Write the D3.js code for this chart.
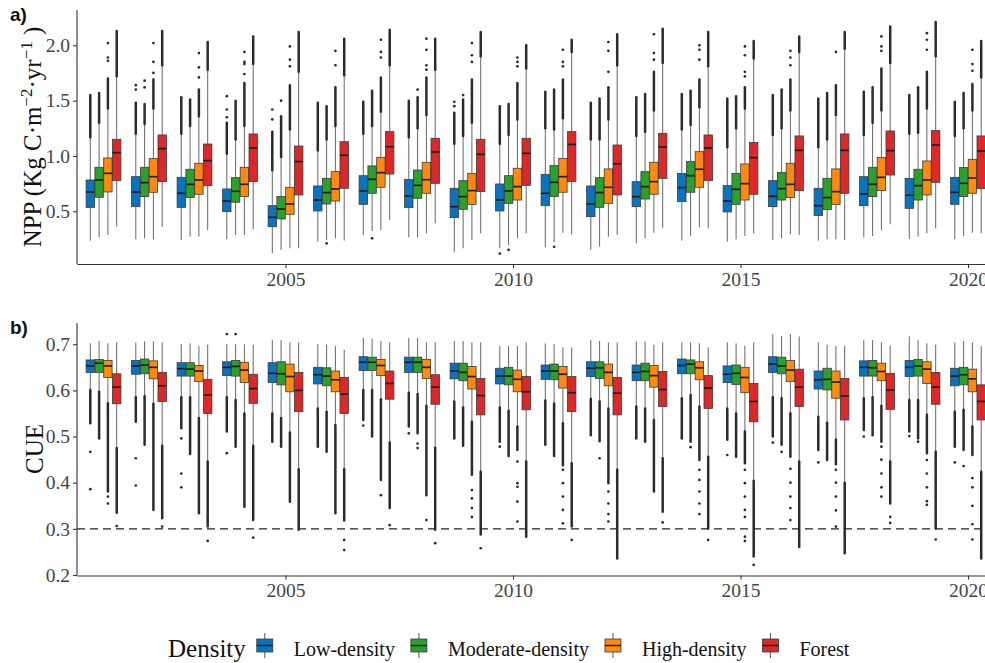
<!DOCTYPE html>
<html><head><meta charset="utf-8">
<script src="https://cdn.jsdelivr.net/npm/d3@7"></script>
<style>body{margin:0;background:#fff}svg{display:block}</style>
</head><body>
<div id="chart"></div>
<script>
const years = [2001,2002,2003,2004,2005,2006,2007,2008,2009,2010,2011,2012,2013,2014,2015,2016,2017,2018,2019,2020];
const densities = ["Low-density","Moderate-density","High-density","Forest"];
const colors = ["#0a73be","#2ca02c","#ff8a0e","#dc2828"];
const xTicks = [2005,2010,2015,2020];
const nppTicks = [0.5,1.0,1.5,2.0];
const cueTicks = [0.2,0.3,0.4,0.5,0.6,0.7];
const cueThreshold = 0.3;

// rows: [lowerWhisker, q1, median, q3, upperWhisker, end of dense outliers]
const nppLow = [[0.235,0.536,0.675,0.783,1.17,1.55],[0.247,0.542,0.675,0.813,1.20,1.48],[0.241,0.536,0.663,0.807,1.20,1.53],[0.247,0.497,0.593,0.702,1.02,1.30],[0.121,0.361,0.446,0.551,0.87,1.22],[0.226,0.503,0.602,0.729,1.05,1.48],[0.286,0.563,0.684,0.822,1.20,1.49],[0.265,0.533,0.639,0.789,1.17,1.50],[0.130,0.443,0.542,0.708,1.11,1.39],[0.166,0.503,0.602,0.747,1.11,1.45],[0.175,0.551,0.663,0.834,1.25,1.58],[0.151,0.452,0.566,0.729,1.15,1.48],[0.210,0.542,0.633,0.768,1.18,1.53],[0.235,0.587,0.714,0.843,1.24,1.56],[0.226,0.494,0.593,0.732,1.08,1.52],[0.241,0.542,0.636,0.777,1.19,1.55],[0.235,0.461,0.551,0.708,1.08,1.52],[0.265,0.551,0.657,0.813,1.19,1.58],[0.250,0.527,0.645,0.798,1.20,1.55],[0.247,0.563,0.672,0.807,1.18,1.49]];
const nppMod = [[0.265,0.627,0.783,0.898,1.30,1.57],[0.256,0.633,0.759,0.898,1.29,1.47],[0.271,0.624,0.744,0.880,1.27,1.51],[0.286,0.582,0.681,0.804,1.15,1.50],[0.151,0.431,0.521,0.633,0.99,1.36],[0.240,0.566,0.669,0.798,1.15,1.45],[0.322,0.663,0.789,0.910,1.27,1.59],[0.265,0.618,0.735,0.873,1.25,1.53],[0.166,0.518,0.633,0.777,1.18,1.51],[0.196,0.572,0.684,0.822,1.19,1.47],[0.220,0.633,0.762,0.913,1.24,1.60],[0.181,0.536,0.669,0.804,1.15,1.52],[0.256,0.611,0.723,0.858,1.22,1.56],[0.277,0.672,0.822,0.949,1.28,1.59],[0.247,0.563,0.699,0.843,1.25,1.54],[0.256,0.602,0.705,0.852,1.25,1.60],[0.247,0.515,0.624,0.798,1.15,1.57],[0.277,0.633,0.744,0.898,1.30,1.62],[0.271,0.602,0.732,0.880,1.21,1.62],[0.277,0.633,0.753,0.895,1.25,1.57]];
const nppHigh = [[0.286,0.675,0.843,0.982,1.43,1.70],[0.247,0.672,0.813,0.976,1.43,1.69],[0.271,0.654,0.783,0.934,1.36,1.60],[0.286,0.633,0.744,0.898,1.27,1.66],[0.166,0.473,0.566,0.717,1.24,1.64],[0.256,0.593,0.702,0.858,1.27,1.62],[0.331,0.717,0.849,0.988,1.40,1.71],[0.301,0.663,0.786,0.943,1.37,1.71],[0.241,0.563,0.687,0.843,1.30,1.69],[0.256,0.602,0.723,0.889,1.33,1.66],[0.307,0.672,0.813,0.979,1.34,1.69],[0.271,0.572,0.717,0.883,1.33,1.62],[0.307,0.654,0.768,0.943,1.41,1.76],[0.355,0.717,0.880,1.039,1.44,1.69],[0.277,0.602,0.750,0.928,1.43,1.62],[0.292,0.624,0.744,0.934,1.41,1.69],[0.247,0.563,0.678,0.883,1.37,1.64],[0.331,0.687,0.807,0.985,1.41,1.79],[0.301,0.648,0.783,0.955,1.43,1.76],[0.307,0.663,0.801,0.970,1.41,1.65]];
const nppForest = [[0.361,0.777,1.030,1.151,1.72,2.13],[0.361,0.768,1.066,1.190,1.82,2.13],[0.331,0.732,0.958,1.108,1.78,2.03],[0.337,0.768,1.072,1.199,1.83,2.08],[0.166,0.648,0.949,1.090,1.76,2.12],[0.235,0.708,1.006,1.129,1.73,2.06],[0.422,0.837,1.084,1.220,1.82,2.14],[0.392,0.753,1.036,1.160,1.78,2.06],[0.301,0.678,1.015,1.151,1.90,2.12],[0.301,0.735,1.024,1.160,1.79,2.00],[0.292,0.768,1.105,1.220,1.94,2.05],[0.286,0.648,0.930,1.099,1.82,2.10],[0.352,0.798,1.081,1.205,1.84,2.15],[0.346,0.777,1.072,1.190,1.81,2.12],[0.301,0.654,0.985,1.123,1.88,2.04],[0.286,0.687,1.051,1.181,1.94,2.08],[0.241,0.663,1.051,1.199,1.97,2.12],[0.383,0.828,1.048,1.226,1.84,2.17],[0.346,0.762,1.099,1.229,1.90,2.21],[0.300,0.705,1.045,1.181,1.71,2.04]];
// separate outliers
const nppLowOut = [[],[1.60,1.64],[],[1.35,1.42,1.54],[1.33,1.42],[],[],[],[1.45,1.49],[0.118],[],[],[],[],[],[],[],[],[],[]];
const nppModOut = [[],[1.62,1.68],[],[],[1.50],[0.21],[0.256],[1.60],[1.55],[0.151],[0.18],[],[],[],[],[],[],[],[],[]];
const nppHighOut = [[1.86,1.89,2.02],[1.75,1.85,2.02],[1.71,1.80,1.93],[1.74,1.83,1.85,1.94],[1.81,1.87,1.99],[1.82,1.95],[1.89,1.94,2.05],[1.78,1.82,1.96,2.06],[1.85,1.91,2.02],[1.81,1.85,1.89],[1.81,1.85,1.96],[1.76,1.95,2.03],[1.87,1.93,2.10],[1.87,1.96,2.00],[1.72,1.76,1.91,1.99],[1.82,1.89,1.95],[1.94],[1.95,1.99,2.08],[1.96,2.05,2.11],[1.77,1.83,1.96]];
const nppForestOut = [[],[],[],[],[],[],[],[],[],[],[],[],[],[],[],[],[],[],[],[]];

// rows: [lowerWhisker, q1, median, q3, upperWhisker, end of dense low outliers]
const cueLow = [[0.601,0.639,0.653,0.666,0.702,0.529],[0.585,0.635,0.653,0.665,0.704,0.532],[0.585,0.631,0.647,0.660,0.700,0.518],[0.585,0.632,0.650,0.662,0.700,0.511],[0.550,0.617,0.637,0.660,0.709,0.489],[0.561,0.614,0.634,0.650,0.700,0.478],[0.601,0.643,0.661,0.673,0.714,0.536],[0.595,0.639,0.661,0.672,0.714,0.522],[0.576,0.625,0.642,0.659,0.707,0.496],[0.563,0.614,0.631,0.648,0.696,0.489],[0.578,0.624,0.642,0.655,0.702,0.482],[0.582,0.630,0.648,0.662,0.709,0.503],[0.565,0.621,0.639,0.655,0.706,0.496],[0.583,0.636,0.654,0.668,0.704,0.496],[0.561,0.617,0.635,0.653,0.704,0.493],[0.585,0.639,0.657,0.673,0.722,0.500],[0.543,0.603,0.623,0.642,0.704,0.471],[0.583,0.631,0.650,0.664,0.709,0.514],[0.579,0.630,0.650,0.665,0.717,0.511],[0.554,0.610,0.631,0.648,0.704,0.478]];
const cueMod = [[0.597,0.639,0.659,0.667,0.707,0.496],[0.588,0.636,0.655,0.668,0.706,0.482],[0.585,0.631,0.646,0.660,0.702,0.462],[0.579,0.631,0.652,0.665,0.700,0.478],[0.540,0.612,0.636,0.662,0.709,0.478],[0.554,0.610,0.631,0.649,0.699,0.467],[0.601,0.643,0.661,0.672,0.712,0.500],[0.592,0.639,0.661,0.672,0.714,0.507],[0.563,0.621,0.639,0.659,0.707,0.480],[0.556,0.612,0.631,0.650,0.696,0.458],[0.571,0.623,0.642,0.657,0.700,0.458],[0.576,0.626,0.649,0.662,0.707,0.490],[0.561,0.621,0.641,0.659,0.706,0.489],[0.590,0.636,0.657,0.666,0.704,0.489],[0.550,0.613,0.637,0.655,0.702,0.456],[0.583,0.636,0.653,0.672,0.718,0.482],[0.530,0.601,0.624,0.648,0.699,0.449],[0.585,0.631,0.649,0.665,0.709,0.503],[0.579,0.631,0.653,0.667,0.709,0.496],[0.558,0.612,0.634,0.650,0.707,0.471]];
const cueHigh = [[0.572,0.628,0.653,0.665,0.702,0.381],[0.571,0.625,0.650,0.664,0.706,0.341],[0.540,0.619,0.642,0.654,0.696,0.334],[0.550,0.617,0.644,0.661,0.700,0.348],[0.509,0.597,0.630,0.657,0.704,0.359],[0.525,0.597,0.623,0.642,0.696,0.334],[0.581,0.632,0.654,0.667,0.707,0.406],[0.567,0.626,0.650,0.667,0.704,0.373],[0.532,0.603,0.630,0.652,0.704,0.417],[0.522,0.597,0.624,0.644,0.696,0.471],[0.529,0.605,0.635,0.652,0.693,0.438],[0.561,0.610,0.639,0.657,0.704,0.399],[0.536,0.607,0.632,0.654,0.699,0.381],[0.565,0.623,0.649,0.662,0.702,0.449],[0.511,0.595,0.628,0.650,0.697,0.442],[0.550,0.619,0.644,0.665,0.722,0.456],[0.493,0.583,0.618,0.642,0.696,0.440],[0.567,0.621,0.641,0.659,0.704,0.489],[0.547,0.615,0.646,0.662,0.702,0.464],[0.522,0.597,0.625,0.646,0.704,0.460]];
const cueForest = [[0.475,0.571,0.607,0.636,0.704,0.335],[0.480,0.576,0.610,0.639,0.704,0.323],[0.446,0.550,0.590,0.624,0.699,0.305],[0.480,0.572,0.604,0.635,0.699,0.319],[0.429,0.554,0.600,0.639,0.704,0.298],[0.429,0.550,0.592,0.628,0.688,0.318],[0.487,0.581,0.615,0.642,0.704,0.345],[0.476,0.570,0.607,0.634,0.704,0.298],[0.424,0.547,0.589,0.626,0.704,0.288],[0.446,0.558,0.597,0.630,0.704,0.283],[0.442,0.554,0.595,0.630,0.693,0.305],[0.428,0.547,0.594,0.628,0.704,0.236],[0.453,0.565,0.602,0.641,0.704,0.337],[0.456,0.561,0.605,0.632,0.693,0.301],[0.404,0.532,0.576,0.615,0.704,0.240],[0.446,0.565,0.607,0.646,0.717,0.261],[0.400,0.536,0.588,0.626,0.697,0.247],[0.446,0.559,0.601,0.637,0.697,0.355],[0.467,0.570,0.607,0.639,0.699,0.301],[0.424,0.536,0.576,0.612,0.696,0.236]];
const cueLowOut = [[0.467,0.386],[0.453,0.394],[0.496,0.42,0.39],[0.464,0.722],[],[],[0.524],[0.507],[],[0.478],[],[],[],[],[0.460],[0.487],[0.444],[0.500],[0.501],[0.444]];
const cueModOut = [[],[],[],[0.722],[],[],[],[0.485,0.475],[],[],[],[0.453],[],[0.477],[],[0.467],[],[],[0.489],[0.436]];
const cueHighOut = [[0.370,0.355],[],[],[],[],[],[0.373],[0.319],[0.384,0.366,0.345,0.326],[0.446,0.399,0.391,0.359,0.316],[0.428,0.399,0.370,0.341,0.312],[0.381,0.355,0.332,0.316],[],[0.428,0.406,0.381,0.355,0.332],[0.428,0.399,0.370,0.341,0.326,0.283,0.274],[0.43,0.40,0.37,0.345,0.319],[0.428,0.400,0.370,0.340,0.305],[0.478,0.45,0.42,0.39,0.37],[0.449,0.42,0.39,0.36,0.352],[0.41,0.39,0.35,0.31,0.277]];
const cueForestOut = [[0.306],[0.305],[0.274],[0.281],[],[0.276,0.254],[0.308],[0.269],[0.258],[],[0.276],[],[0.314],[0.276],[0.222],[],[],[0.326,0.313],[0.277],[]];

const W = 985, H = 663;
const serif = "'Liberation Serif','Times New Roman',serif";
const svg = d3.select("#chart").append("svg").attr("width", W).attr("height", H)
  .style("font-family", serif);
svg.append("rect").attr("width", W).attr("height", H).attr("fill", "#fff");

const axisX0 = 77;
const x = d3.scaleLinear().domain([2001, 2020]).range([103.5, 968]);
const slot = 8.8, halfW = 4.2;

const panels = [
  {label: "a)", top: 10, bottom: 264, domain: [0.024, 2.319], ticks: nppTicks, fmt: d3.format(".1f"),
   sets: [nppLow, nppMod, nppHigh, nppForest], outs: [nppLowOut, nppModOut, nppHighOut, nppForestOut], denseUp: true},
  {label: "b)", top: 323, bottom: 575.5, domain: [0.199, 0.746], ticks: cueTicks, fmt: d3.format(".1f"),
   sets: [cueLow, cueMod, cueHigh, cueForest], outs: [cueLowOut, cueModOut, cueHighOut, cueForestOut], denseUp: false}
];

panels.forEach((p, pi) => {
  const y = d3.scaleLinear().domain(p.domain).range([p.bottom, p.top]);
  const g = svg.append("g");

  if (!p.denseUp) {
    g.append("line").attr("x1", axisX0).attr("x2", W + 5)
      .attr("y1", y(cueThreshold)).attr("y2", y(cueThreshold))
      .attr("stroke", "#222").attr("stroke-width", 1.4).attr("stroke-dasharray", "8,5");
  }

  p.sets.forEach((rows, ci) => {
    const outs = p.outs[ci];
    rows.forEach((r, yi) => {
      const cx = x(years[yi]) + (ci - 1.5) * slot;
      const [lo, q1, med, q3, hi, dense] = r;
      g.append("line").attr("x1", cx).attr("x2", cx).attr("y1", y(hi)).attr("y2", y(q3))
        .attr("stroke", "#666").attr("stroke-width", 1);
      g.append("line").attr("x1", cx).attr("x2", cx).attr("y1", y(q1)).attr("y2", y(lo))
        .attr("stroke", "#666").attr("stroke-width", 1);
      const d0 = p.denseUp ? hi : lo;
      g.append("line").attr("x1", cx).attr("x2", cx).attr("y1", y(d0)).attr("y2", y(dense))
        .attr("stroke", "#2b2b2b").attr("stroke-width", 2.5).attr("stroke-linecap", "round");
      outs[yi].forEach(v => {
        g.append("circle").attr("cx", cx).attr("cy", y(v)).attr("r", 1.35).attr("fill", "#2b2b2b");
      });
      g.append("rect").attr("x", cx - halfW).attr("width", halfW * 2)
        .attr("y", y(q3)).attr("height", y(q1) - y(q3))
        .attr("fill", colors[ci]).attr("stroke", "#3a3a3a").attr("stroke-width", 0.8);
      g.append("line").attr("x1", cx - halfW).attr("x2", cx + halfW).attr("y1", y(med)).attr("y2", y(med))
        .attr("stroke", "#1e1e1e").attr("stroke-width", 1.7);
    });
  });

  const yAxis = d3.axisLeft(y).tickValues(p.ticks).tickFormat(p.fmt).tickSize(4).tickSizeOuter(0).tickPadding(3);
  const ya = svg.append("g").attr("transform", `translate(${axisX0},0)`).call(yAxis);
  const xs = x.copy().domain([x.invert(axisX0), x.invert(W + 5)]).range([axisX0, W + 5]);
  const xAxis = d3.axisBottom(xs).tickValues(xTicks).tickFormat(d3.format("d")).tickSize(4).tickSizeOuter(0).tickPadding(4);
  const xa = svg.append("g").attr("transform", `translate(0,${p.bottom})`).call(xAxis);
  [ya, xa].forEach(a => {
    a.attr("font-family", serif);
    a.select(".domain").attr("stroke", "#333").attr("stroke-width", 1.1);
    a.selectAll(".tick line").attr("stroke", "#333").attr("stroke-width", 1.1);
    a.selectAll(".tick text").attr("fill", "#444").style("font-size", "19.5px")
      .style("font-family", serif);
  });
  ya.select(".domain").attr("d", `M0,${p.bottom}V${p.top}`);

  svg.append("text").attr("x", 10).attr("y", p.top + 11).text(p.label)
    .style("font-family", "'Liberation Sans',Arial,sans-serif").style("font-weight", "bold")
    .style("font-size", "19px").attr("fill", "#111");
});

const t1 = svg.append("text").attr("transform", "translate(41,137) rotate(-90)")
  .attr("text-anchor", "middle").style("font-size", "25px").attr("fill", "#111");
t1.append("tspan").text("NPP (Kg C·m");
t1.append("tspan").text("−2").attr("dy", -9).style("font-size", "17px");
t1.append("tspan").text("·yr").attr("dy", 9);
t1.append("tspan").text("−1").attr("dy", -9).style("font-size", "17px");
t1.append("tspan").text(" )").attr("dy", 9);

svg.append("text").attr("transform", "translate(43,449) rotate(-90)")
  .attr("text-anchor", "middle").style("font-size", "25px").attr("fill", "#111").text("CUE");

const lg = svg.append("g");
const lt = lg.append("text").attr("x", 168).attr("y", 657).style("font-size", "25px").attr("fill", "#111").text("Density");
let cursor = 168 + lt.node().getComputedTextLength() + 11;
densities.forEach((name, i) => {
  const kx = cursor, kc = kx + 8;
  lg.append("line").attr("x1", kc).attr("x2", kc).attr("y1", 633).attr("y2", 658).attr("stroke", "#555").attr("stroke-width", 1);
  lg.append("rect").attr("x", kx).attr("y", 639).attr("width", 16).attr("height", 13)
    .attr("fill", colors[i]).attr("stroke", "#3a3a3a").attr("stroke-width", 0.8);
  lg.append("line").attr("x1", kx).attr("x2", kx + 16).attr("y1", 645.5).attr("y2", 645.5).attr("stroke", "#1e1e1e").attr("stroke-width", 1.5);
  const tx = lg.append("text").attr("x", kx + 37).attr("y", 656).style("font-size", "20px").attr("fill", "#111").text(name);
  cursor = kx + 37 + tx.node().getComputedTextLength() + 16;
});
</script>
</body></html>
